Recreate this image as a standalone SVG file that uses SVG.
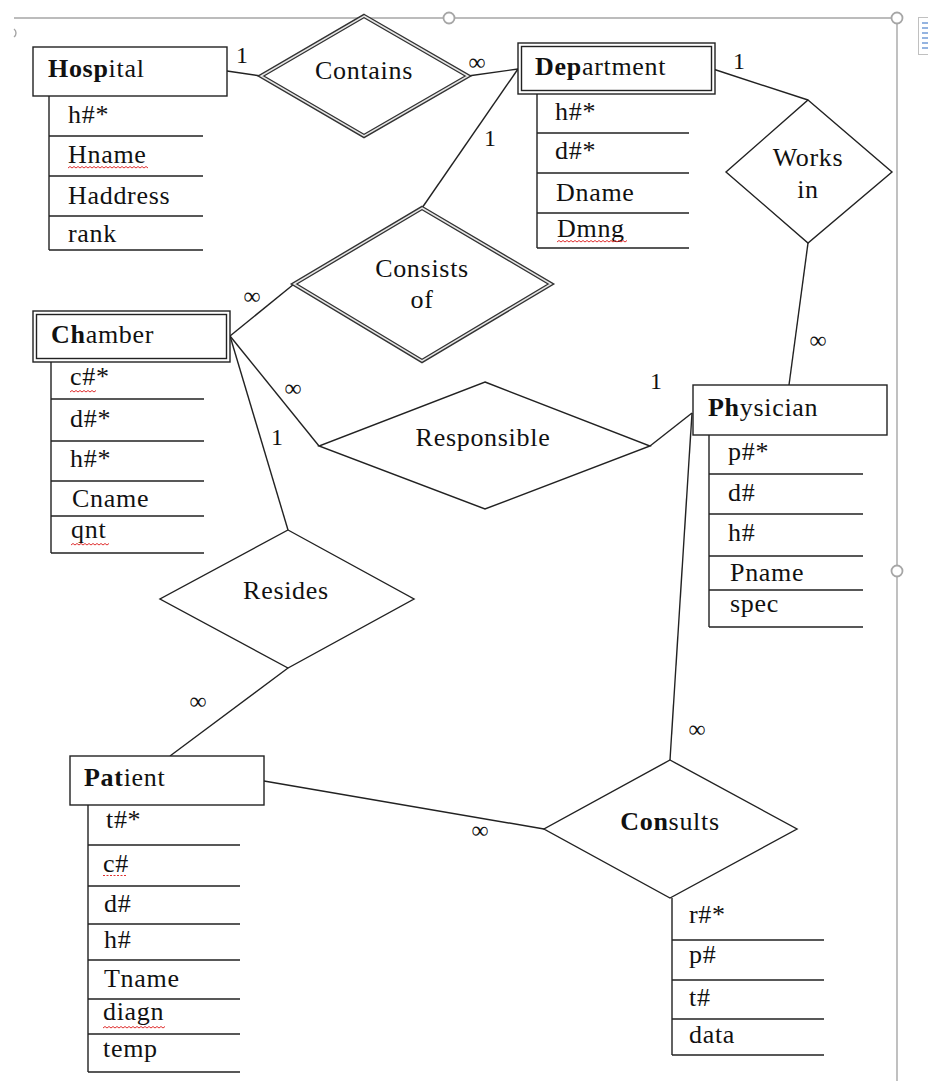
<svg xmlns="http://www.w3.org/2000/svg" width="928" height="1081" viewBox="0 0 928 1081">
<style>
text{font-family:"Liberation Serif","Times New Roman",serif;font-size:26px;fill:#111;letter-spacing:0.7px}
.b{font-weight:bold}
.m{text-anchor:middle}
.lbl{font-size:24px;letter-spacing:0}
.ln{stroke:#222;stroke-width:1.4;fill:none}
.box{stroke:#222;stroke-width:1.4;fill:#fff}
.dia{stroke:#222;stroke-width:1.4;fill:#fff}
.dd1{stroke:#333;stroke-width:4.2;fill:#fff;stroke-linejoin:miter}
.dd2{stroke:#e6e6e6;stroke-width:1.5;fill:none;stroke-linejoin:miter}
.fr{stroke:#a6a6a6;stroke-width:1.4;fill:none}
.hd{stroke:#a6a6a6;stroke-width:1.8;fill:#fff}
.sq{stroke:#e03030;stroke-width:1;fill:none}
.sqd{stroke:#e03030;stroke-width:1;fill:none;stroke-dasharray:2 1.5}
</style>

<g id="frame">
<line class="fr" x1="14" y1="18" x2="891" y2="18"/>
<line class="fr" x1="897" y1="24" x2="897" y2="1081"/>
<circle class="hd" cx="449" cy="18" r="5.5"/>
<circle class="hd" cx="897" cy="18" r="5.5"/>
<circle class="hd" cx="897" cy="571" r="5.5"/>
<path class="fr" d="M14 29 A5 5 0 0 1 14 37"/>
<rect x="918.5" y="17.5" width="12" height="37" fill="#fff" stroke="#c0c0c0"/>
<g stroke="#5b8bd0" stroke-width="1.3">
<line x1="922" y1="23" x2="928" y2="23"/><line x1="922" y1="28" x2="928" y2="28"/><line x1="922" y1="33" x2="928" y2="33"/><line x1="922" y1="38" x2="928" y2="38"/><line x1="922" y1="43" x2="928" y2="43"/><line x1="922" y1="48" x2="928" y2="48"/>
</g>
</g>

<g id="connectors">
<line class="ln" x1="227" y1="71" x2="261" y2="76"/>
<line class="ln" x1="468" y1="76" x2="518" y2="69"/>
<line class="ln" x1="518" y1="69" x2="422" y2="208"/>
<line class="ln" x1="713" y1="69" x2="808" y2="100"/>
<line class="ln" x1="808" y1="243" x2="789" y2="385"/>
<line class="ln" x1="230" y1="336" x2="294" y2="284"/>
<line class="ln" x1="230" y1="336" x2="319" y2="446"/>
<line class="ln" x1="230" y1="336" x2="288" y2="530"/>
<line class="ln" x1="650" y1="446" x2="692" y2="413"/>
<line class="ln" x1="288" y1="668" x2="170" y2="756"/>
<line class="ln" x1="264" y1="781" x2="544" y2="829"/>
<line class="ln" x1="692" y1="413" x2="670" y2="760"/>
<text x="236" y="63" class="lbl">1</text>
<text x="477" y="70" class="lbl m">∞</text>
<text x="733" y="69" class="lbl">1</text>
<text x="484" y="146" class="lbl">1</text>
<text x="818" y="348" class="lbl m">∞</text>
<text x="252" y="304" class="lbl m">∞</text>
<text x="293" y="396" class="lbl m">∞</text>
<text x="271" y="445" class="lbl">1</text>
<text x="650" y="389" class="lbl">1</text>
<text x="198" y="709" class="lbl m">∞</text>
<text x="480" y="838" class="lbl m">∞</text>
<text x="697" y="737" class="lbl m">∞</text>
</g>

<g id="hospital">
<rect class="box" x="33" y="47" width="194" height="49"/>
<text x="48" y="77"><tspan class="b">Hosp</tspan>ital</text>
<path class="ln" d="M49 96V250M49 136H203M49 176H203M49 216H203M49 250H203"/>
<text x="68" y="123">h#*</text>
<text x="68" y="163">Hname</text>
<text x="68" y="204">Haddress</text>
<text x="68" y="242">rank</text>
<path class="sq" d="M68 168l2 -1.5l2 1.5l2 -1.5l2 1.5l2 -1.5l2 1.5l2 -1.5l2 1.5l2 -1.5l2 1.5l2 -1.5l2 1.5l2 -1.5l2 1.5l2 -1.5l2 1.5l2 -1.5l2 1.5l2 -1.5l2 1.5l2 -1.5l2 1.5l2 -1.5l2 1.5l2 -1.5l2 1.5l2 -1.5l2 1.5l2 -1.5l2 1.5l2 -1.5l2 1.5l2 -1.5l2 1.5l2 -1.5l2 1.5l2 -1.5l2 1.5l2 -1.5l2 1.5"/>
</g>

<g id="contains">
<polygon class="dd1" points="364,16 468,76 364,136 261,76"/>
<polygon class="dd2" points="364,16 468,76 364,136 261,76"/>
<text x="364" y="79" class="m">Contains</text>
</g>

<g id="department">
<rect class="box" x="518" y="43" width="197" height="51"/>
<rect class="box" x="521.5" y="46.5" width="190" height="44"/>
<text x="535" y="75"><tspan class="b">Dep</tspan>artment</text>
<path class="ln" d="M537 94V248M537 133H689M537 173H689M537 213H689M537 248H689"/>
<text x="555" y="120">h#*</text>
<text x="555" y="159">d#*</text>
<text x="556" y="201">Dname</text>
<text x="557" y="237">Dmng</text>
<path class="sq" d="M557 242l2 -1.5l2 1.5l2 -1.5l2 1.5l2 -1.5l2 1.5l2 -1.5l2 1.5l2 -1.5l2 1.5l2 -1.5l2 1.5l2 -1.5l2 1.5l2 -1.5l2 1.5l2 -1.5l2 1.5l2 -1.5l2 1.5l2 -1.5l2 1.5l2 -1.5l2 1.5l2 -1.5l2 1.5l2 -1.5l2 1.5l2 -1.5l2 1.5l2 -1.5l2 1.5l2 -1.5l2 1.5l2 -1.5"/>
</g>

<g id="works-in">
<polygon class="dia" points="808,100 892,172 808,243 726,172"/>
<text x="808" y="166" class="m">Works</text>
<text x="808" y="198" class="m">in</text>
</g>

<g id="consists-of">
<polygon class="dd1" points="422,208 551,284 422,361 294,284"/>
<polygon class="dd2" points="422,208 551,284 422,361 294,284"/>
<text x="422" y="277" class="m">Consists</text>
<text x="422" y="308" class="m">of</text>
</g>

<g id="chamber">
<rect class="box" x="33" y="311" width="197" height="51"/>
<rect class="box" x="36.5" y="314.5" width="190" height="44"/>
<text x="51" y="343"><tspan class="b">Ch</tspan>amber</text>
<path class="ln" d="M51 362V553M51 399H204M51 441H204M51 481H204M51 516H204M51 553H204"/>
<text x="70" y="385">c#*</text>
<text x="70" y="427">d#*</text>
<text x="70" y="467">h#*</text>
<text x="72" y="507">Cname</text>
<text x="71" y="538">qnt</text>
<path class="sq" d="M70 392l2 -1.5l2 1.5l2 -1.5l2 1.5l2 -1.5l2 1.5l2 -1.5l2 1.5l2 -1.5l2 1.5l2 -1.5l2 1.5l2 -1.5"/>
<path class="sq" d="M71 545l2 -1.5l2 1.5l2 -1.5l2 1.5l2 -1.5l2 1.5l2 -1.5l2 1.5l2 -1.5l2 1.5l2 -1.5l2 1.5l2 -1.5l2 1.5l2 -1.5l2 1.5l2 -1.5l2 1.5l2 -1.5"/>
</g>

<g id="responsible">
<polygon class="dia" points="485,382 650,446 485,509 319,446"/>
<text x="483" y="446" class="m">Responsible</text>
</g>

<g id="physician">
<rect class="box" x="693" y="385" width="194" height="50"/>
<text x="708" y="416"><tspan class="b">Ph</tspan>ysician</text>
<path class="ln" d="M709 435V627M709 474H863M709 514H863M709 556H863M709 590H863M709 627H863"/>
<text x="728" y="460">p#*</text>
<text x="728" y="501">d#</text>
<text x="728" y="541">h#</text>
<text x="730" y="581">Pname</text>
<text x="730" y="612">spec</text>
</g>

<g id="resides">
<polygon class="dia" points="288,530 414,599 288,668 160,599"/>
<text x="286" y="599" class="m">Resides</text>
</g>

<g id="patient">
<rect class="box" x="70" y="756" width="194" height="49"/>
<text x="84" y="786"><tspan class="b">Pat</tspan>ient</text>
<path class="ln" d="M88 805V1072M88 845H240M88 886H240M88 924H240M88 960H240M88 999H240M88 1034H240M88 1072H240"/>
<text x="106" y="828">t#*</text>
<text x="103" y="872">c#</text>
<text x="104" y="912">d#</text>
<text x="104" y="948">h#</text>
<text x="104" y="987">Tname</text>
<text x="103" y="1020">diagn</text>
<text x="103" y="1057">temp</text>
<path class="sqd" d="M103 875.5H127"/>
<path class="sq" d="M103 1028l2 -1.5l2 1.5l2 -1.5l2 1.5l2 -1.5l2 1.5l2 -1.5l2 1.5l2 -1.5l2 1.5l2 -1.5l2 1.5l2 -1.5l2 1.5l2 -1.5l2 1.5l2 -1.5l2 1.5l2 -1.5l2 1.5l2 -1.5l2 1.5l2 -1.5l2 1.5l2 -1.5l2 1.5l2 -1.5l2 1.5l2 -1.5l2 1.5l2 -1.5"/>
</g>

<g id="consults">
<polygon class="dia" points="670,760 797,829 670,898 544,829"/>
<text x="670" y="830" class="m"><tspan class="b">Con</tspan>sults</text>
<path class="ln" d="M672 898V1055M672 940H824M672 980H824M672 1019H824M672 1055H824"/>
<text x="689" y="923">r#*</text>
<text x="689" y="963">p#</text>
<text x="689" y="1006">t#</text>
<text x="689" y="1043">data</text>
</g>
</svg>
